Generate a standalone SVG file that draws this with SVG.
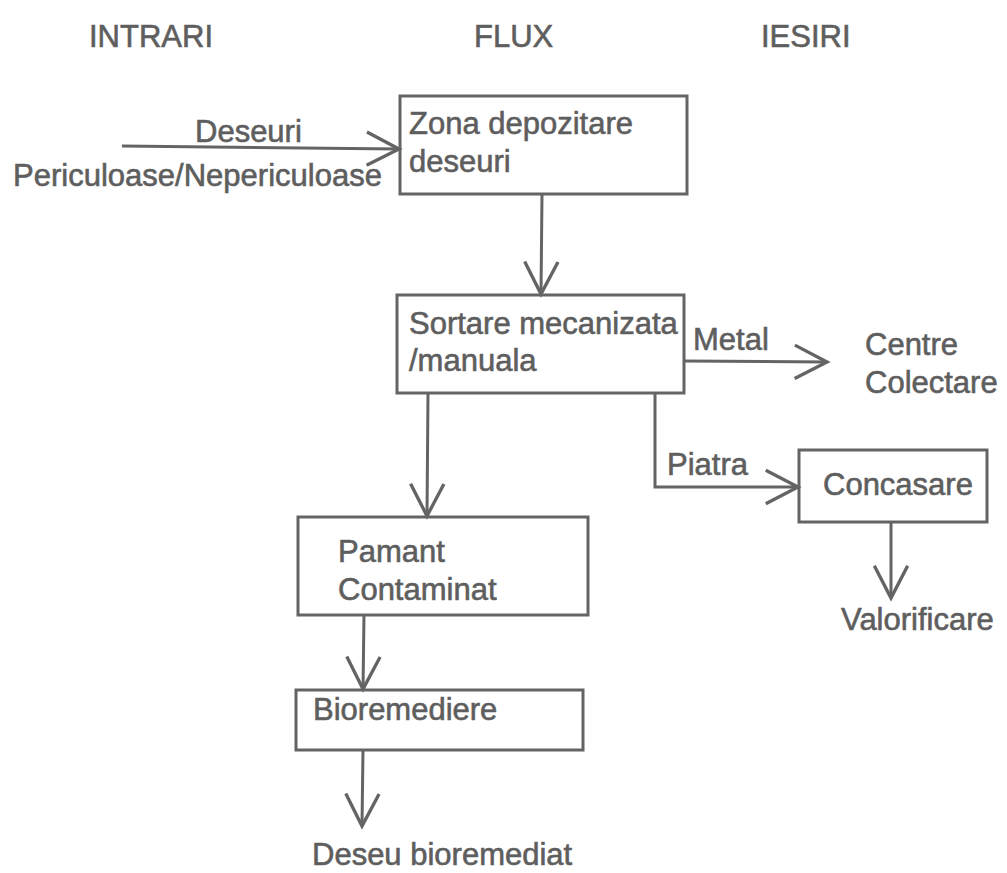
<svg xmlns="http://www.w3.org/2000/svg" width="1007" height="873" viewBox="0 0 1007 873">
<defs>
<style>
text{font-family:"Liberation Sans",Arial,sans-serif;font-size:31px;fill:#5e5e5e;stroke:#5e5e5e;stroke-width:0.6px;}
.box{fill:none;stroke:#646464;stroke-width:3;}
.ln{fill:none;stroke:#646464;stroke-width:3;}
</style>
<marker id="ah" markerUnits="userSpaceOnUse" markerWidth="40" markerHeight="40" viewBox="-32 -18 36 36" refX="0" refY="0" orient="auto">
<path d="M-29,-15 L0,0 L-29,15" fill="none" stroke="#646464" stroke-width="3"/>
</marker>
</defs>
<rect width="1007" height="873" fill="#ffffff"/>
<g id="headers">
<text x="89" y="47">INTRARI</text>
<text x="474" y="47">FLUX</text>
<text x="761" y="47">IESIRI</text>
</g>
<g id="connectors">
<path class="ln" d="M122,146 L399,149" marker-end="url(#ah)"/>
<path class="ln" d="M542,194 L541,294" marker-end="url(#ah)"/>
<path class="ln" d="M684,361 L827,362" marker-end="url(#ah)"/>
<path class="ln" d="M655,393 L655,487 L798,487" marker-end="url(#ah)"/>
<path class="ln" d="M428,393 L427,516" marker-end="url(#ah)"/>
<path class="ln" d="M891,522 L891,598" marker-end="url(#ah)"/>
<path class="ln" d="M364,615 L363,689" marker-end="url(#ah)"/>
<path class="ln" d="M363,750 L362,826" marker-end="url(#ah)"/>
<text x="195" y="142">Deseuri</text>
<text x="13" y="186" textLength="369" lengthAdjust="spacingAndGlyphs">Periculoase/Nepericuloase</text>
<text x="693" y="350">Metal</text>
<text x="667" y="475">Piatra</text>
</g>
<g id="zona">
<rect class="box" x="400" y="96" width="287" height="98"/>
<text x="409" y="134">Zona depozitare</text>
<text x="409" y="172">deseuri</text>
</g>
<g id="sortare">
<rect class="box" x="397" y="295" width="287" height="98"/>
<text x="409" y="334">Sortare mecanizata</text>
<text x="409" y="371">/manuala</text>
</g>
<g id="centre">
<text x="865" y="355">Centre</text>
<text x="865" y="393">Colectare</text>
</g>
<g id="concasare">
<rect class="box" x="799" y="450" width="188" height="72"/>
<text x="823" y="495">Concasare</text>
</g>
<g id="valorificare">
<text x="841" y="630">Valorificare</text>
</g>
<g id="pamant">
<rect class="box" x="298" y="517" width="290" height="98"/>
<text x="338" y="562">Pamant</text>
<text x="338" y="600">Contaminat</text>
</g>
<g id="bioremediere">
<rect class="box" x="296" y="690" width="287" height="60"/>
<text x="313" y="720">Bioremediere</text>
</g>
<g id="deseu">
<text x="312" y="865">Deseu bioremediat</text>
</g>
</svg>
